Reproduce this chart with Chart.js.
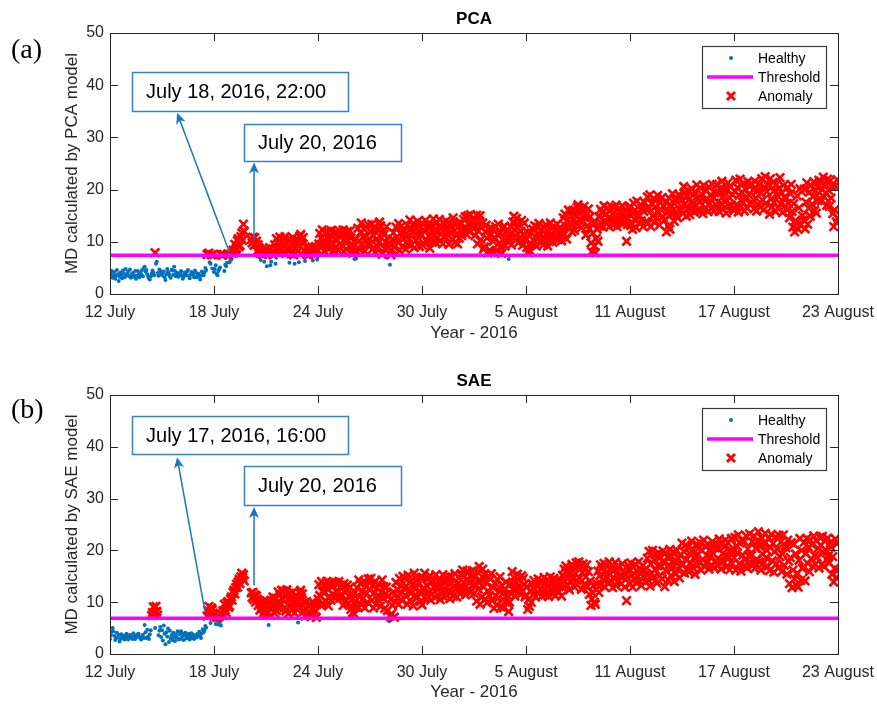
<!DOCTYPE html>
<html>
<head>
<meta charset="utf-8">
<script src="https://cdn.jsdelivr.net/npm/chart.js@4.4.0/dist/chart.umd.min.js"></script>
<style>
  body { margin: 0; background: #fff; }
  #wrap { position: relative; width: 877px; height: 704px; }
  canvas { position: absolute; left: 0; }
</style>
</head>
<body>
<div id="wrap">
  <canvas id="pca" width="877" height="352" style="top:0px"></canvas>
  <canvas id="sae" width="877" height="352" style="top:352px"></canvas>
</div>
<script>
// x axis: days since 12 July 2016, one sample every 0.05 day
const dateLabels = ["12 July", "18 July", "24 July", "30 July", "5 August", "11 August", "17 August", "23 August"];
const sampleDays = 0.05;
const pcaThreshold = 7.4;
const saeThreshold = 6.9;

// MD values, 20 samples per day (one row = one day, null = no data)
const pcaMD = [
  3.4, 3.9, 4.4, 3.1, 3.6, 4.2, 2.9, 3.5, 4.6, 3.8, 2.5, 3.3, 4.1, 3.7, 3.0, 4.5, 3.9, 3.2, 4.8, 3.6,
  3.9, 4.3, 3.4, 4.7, 3.1, 3.8, 4.0, 3.3, 3.6, 4.4, 2.9, 3.5, 4.4, 3.7, 3.2, 4.1, 3.8, 4.6, 3.4, 5.0,
  5.2, 4.3, 4.6, 3.8, 3.3, 2.9, 2.8, 3.4, 3.9, 4.5, 4.1, 3.6, 7.9, 5.8, 6.2, 4.0, 3.5, 4.7, 4.4, 3.9,
  3.6, 4.1, 4.3, 3.2, 2.7, 3.8, 4.8, 4.2, 3.9, 3.4, 3.1, 4.6, 4.5, 3.7, 5.2, 4.4, 3.4, 3.9, 4.0, 3.3,
  3.5, 4.0, 4.4, 3.6, 2.9, 3.3, 4.1, 3.8, 3.6, 4.3, 4.6, 3.5, 3.0, 3.7, 4.2, 3.9, 3.8, 3.2, 4.5, 4.1,
  3.2, 3.7, 3.9, 3.4, 2.8, 3.5, 4.3, 3.9, 3.6, 4.1, 5.0, 4.6, 7.6, 7.7, 7.8, 6.1, 5.8, 7.5, 4.9, 7.6,
  4.2, 4.8, 5.5, 3.9, 3.6, 4.4, 4.8, 5.1, 7.6, 7.5, 7.5, 7.6, 4.4, 5.6, 5.3, 6.0, 7.7, 7.5, 6.1, 6.6,
  6.6, 7.8, 8.4, 7.9, 9.5, 8.5, 8.8, 10.2, 10.6, 9.1, 9.3, 11.0, 11.7, 10.3, 13.4, 12.0, null, null, null, null,
  null, null, null, 10.4, 9.8, 10.9, 9.3, 10.8, 9.6, 10.1, 8.2, 9.4, 8.9, 7.8, 6.5, 8.3, 7.6, 8.8, 6.2, 7.9,
  8.6, 5.3, 7.7, 7.8, 8.9, 5.5, 6.2, 8.0, 7.5, 8.3, 9.4, 5.8, 10.6, 8.5, 9.7, 7.9, 10.9, 8.8, 9.9, 8.1,
  9.2, 10.4, 11.0, 7.8, 8.5, 10.3, 9.1, 6.0, 8.7, 7.7, 9.9, 10.8, 7.5, 5.8, 8.9, 9.6, 10.5, 8.2, 6.1, 11.1,
  11.4, 10.5, 9.6, 10.8, 8.4, 6.3, 8.1, 7.6, 8.8, 7.5, 8.9, 8.1, 7.8, 9.0, 6.4, 8.4, 7.7, 9.1, 8.6, 6.6,
  8.3, 9.6, 11.6, 9.4, 10.7, 12.3, 10.1, 8.2, 11.8, 9.2, 9.7, 12.0, 10.5, 8.6, 11.3, 12.2, 9.9, 10.9, 8.4, 11.5,
  9.0, 11.9, 10.3, 8.4, 12.2, 9.6, 10.8, 11.4, 9.3, 12.3, 8.1, 11.5, 10.0, 8.6, 12.0, 10.2, 9.1, 12.1, 10.7, 8.8,
  7.8, 9.2, 6.7, 10.4, 6.8, 8.1, 12.6, 10.1, 8.5, 11.8, 13.6, 9.7, 10.9, 12.4, 8.2, 11.1, 12.8, 9.4, 13.3, 10.6,
  9.6, 11.9, 13.4, 8.6, 11.2, 12.7, 8.0, 10.4, 12.5, 9.1, 9.8, 13.8, 13.1, 10.8, 7.6, 12.0, 11.4, 8.7, 10.0, 12.9,
  7.2, 8.8, 9.8, 5.6, 7.5, 8.4, 10.5, 11.7, 9.0, 9.3, 12.8, 10.9, 10.2, 13.5, 8.3, 11.6, 13.0, 9.1, 12.2, 10.6,
  12.0, 8.6, 10.9, 13.2, 9.6, 10.5, 14.2, 12.4, 9.4, 11.8, 13.5, 8.9, 12.9, 10.3, 11.4, 13.9, 10.7, 9.1, 12.6, 11.2,
  13.6, 9.3, 12.3, 11.9, 14.1, 10.4, 10.0, 13.0, 12.6, 8.8, 11.5, 13.3, 9.9, 14.4, 11.2, 12.1, 9.8, 13.7, 10.8, 12.8,
  14.3, 10.2, 11.5, 12.8, 9.6, 13.7, 11.1, 10.9, 14.0, 12.5, 12.2, 9.5, 13.4, 11.8, 13.0, 10.4, 14.6, 12.0, 9.9, 13.2,
  11.6, 9.6, 12.9, 10.7, 13.8, 13.4, 11.2, 11.8, 14.3, 12.4, 14.8, 11.5, 12.4, 15.0, 13.6, 11.9, 15.2, 13.1, 12.7, 14.4,
  14.3, 11.2, 13.0, 15.1, 9.6, 12.1, 14.0, 15.0, 10.4, 12.7, 13.6, 8.6, 9.0, 11.9, 13.2, 10.7, 7.9, 12.4, 8.4, 11.3,
  8.0, 12.5, 10.1, 7.9, 10.8, 12.9, 8.3, 11.4, 13.4, 9.7, 11.6, 8.9, 7.8, 12.7, 10.3, 13.0, 9.2, 11.8, 12.2, 10.6,
  6.7, 10.5, 12.9, 9.4, 11.7, 13.8, 14.9, 12.3, 11.0, 14.5, 12.6, 9.8, 13.2, 10.9, 12.0, 14.1, 9.3, 11.5, 13.6, 10.2,
  10.6, 8.9, 11.8, 7.9, 8.4, 9.6, 11.7, 9.5, 12.4, 10.3, 13.1, 11.0, 9.2, 12.8, 10.7, 13.5, 11.4, 9.8, 12.2, 10.5,
  9.4, 12.8, 10.7, 13.3, 11.5, 9.2, 12.0, 10.1, 13.6, 11.3, 12.6, 9.9, 13.0, 10.8, 12.3, 11.1, 13.4, 10.4, 11.9, 12.7,
  12.5, 10.2, 11.8, 14.6, 11.4, 15.3, 13.0, 10.5, 14.1, 16.1, 12.8, 15.7, 13.6, 11.9, 16.0, 14.4, 12.2, 15.1, 13.3, 16.6,
  17.1, 14.2, 16.5, 15.4, 12.7, 15.8, 13.9, 16.8, 14.6, 11.3, 15.2, 13.1, 16.3, 12.5, 14.8, 9.8, 8.1, 11.7, 13.6, 9.2,
  7.9, 10.6, 12.4, 10.1, 14.8, 13.0, 16.2, 13.5, 15.7, 12.8, 16.9, 14.1, 15.3, 13.7, 16.5, 14.6, 12.9, 15.9, 14.3, 16.7,
  15.4, 13.2, 16.6, 14.0, 17.0, 12.9, 15.1, 16.3, 13.8, 15.8, 14.4, 16.9, 13.5, 15.6, 14.7, 16.1, 10.1, 13.3, 14.5, 16.4,
  16.8, 13.1, 15.5, 12.4, 17.4, 14.3, 16.0, 12.7, 17.8, 14.9, 15.2, 13.6, 17.1, 14.0, 16.5, 12.9, 15.8, 17.5, 13.8, 16.2,
  18.6, 13.6, 16.4, 19.0, 12.9, 17.3, 15.0, 18.3, 13.8, 16.7, 17.9, 14.5, 18.9, 15.6, 13.2, 17.6, 16.1, 18.5, 14.8, 16.9,
  14.2, 17.5, 11.9, 15.6, 13.0, 18.4, 12.4, 17.0, 15.3, 19.2, 16.1, 13.9, 18.1, 15.0, 17.7, 14.6, 19.0, 16.4, 18.8, 15.9,
  18.0, 15.4, 20.6, 17.2, 19.4, 14.9, 18.7, 16.3, 19.8, 15.2, 17.5, 20.2, 16.6, 18.9, 15.7, 19.6, 17.0, 20.9, 16.0, 18.3,
  17.6, 20.3, 16.0, 19.1, 15.4, 20.8, 17.9, 16.6, 19.7, 18.2, 15.8, 20.5, 17.3, 19.0, 16.3, 21.0, 18.5, 15.9, 19.4, 17.1,
  21.0, 16.5, 19.3, 15.8, 20.2, 17.4, 21.6, 16.2, 18.8, 20.0, 17.7, 15.5, 19.9, 21.3, 16.9, 18.4, 20.6, 17.0, 19.1, 16.4,
  16.0, 19.6, 21.8, 17.1, 20.4, 15.7, 18.9, 22.0, 16.8, 19.5, 17.6, 21.2, 15.9, 20.1, 18.3, 16.5, 21.5, 19.0, 17.3, 20.7,
  21.2, 17.5, 20.0, 16.3, 21.6, 18.4, 15.9, 19.8, 17.1, 20.9, 16.7, 19.3, 22.1, 18.0, 16.1, 20.5, 22.5, 17.4, 19.6, 21.0,
  20.6, 15.3, 22.1, 18.2, 16.7, 21.4, 17.6, 19.9, 15.8, 21.0, 18.9, 16.4, 20.3, 22.3, 17.2, 19.4, 15.6, 20.8, 18.5, 16.9,
  18.5, 16.1, 20.4, 17.3, 14.6, 19.2, 21.0, 15.8, 12.8, 17.3, 11.9, 14.1, 13.6, 18.8, 12.4, 16.5, 20.2, 13.2, 19.6, 15.0,
  14.2, 20.1, 12.5, 17.6, 21.3, 13.4, 16.4, 19.5, 14.9, 20.8, 17.2, 18.6, 21.5, 16.0, 19.8, 15.5, 20.4, 17.9, 21.8, 18.3,
  21.5, 17.8, 20.0, 22.4, 18.6, 21.1, 19.3, 17.0, 22.0, 19.9, 16.8, 21.7, 18.4, 20.6, 15.4, 12.9, 16.1, 20.7, 13.8, 21.9,
  14.6
];

const saeMD = [
  2.9, 3.6, 4.3, 5.0, 4.4, 3.5, 2.7, 3.1, 4.1, 3.2, 3.7, 2.4, 2.9, 3.8, 3.3, 3.0, 3.5, 2.8, 3.4, 3.9,
  3.3, 2.8, 3.1, 3.7, 3.4, 3.1, 2.9, 4.0, 3.6, 2.9, 3.2, 3.5, 3.8, 3.9, 3.3, 3.0, 2.8, 3.4, 3.7, 3.1,
  5.6, 4.2, 3.1, 4.7, 3.4, 2.9, 3.8, 4.6, 7.4, 8.0, 9.1, 7.6, 5.0, 9.2, 8.2, 7.5, 3.6, 4.5, 5.2, 3.3,
  4.6, 2.6, 5.5, 3.9, 1.9, 4.2, 3.4, 4.9, 2.3, 4.5, 3.0, 3.6, 2.7, 4.1, 3.3, 2.5, 3.8, 3.2, 4.4, 2.8,
  3.8, 2.9, 4.4, 3.3, 3.9, 2.7, 3.6, 4.1, 3.0, 3.5, 3.2, 3.9, 2.8, 3.4, 4.0, 3.1, 3.7, 2.9, 3.3, 3.6,
  3.2, 3.9, 3.5, 4.3, 3.6, 3.1, 4.0, 4.8, 4.2, 4.6, 5.4, 5.1, 7.3, 8.4, 9.2, 7.6, 6.0, 8.9, 8.6, 7.9,
  7.5, 6.6, 5.8, 7.1, 6.4, 5.7, 7.2, 6.2, 5.5, 7.7, 8.3, 7.4, 9.6, 8.5, 8.0, 9.9, 10.1, 9.0, 9.3, 10.6,
  11.0, 10.4, 11.9, 12.3, 11.6, 12.8, 13.5, 12.9, 13.9, 14.4, 13.6, 14.9, 15.6, 14.7, 15.3, 14.1, null, null, null, null,
  null, null, null, 11.8, 10.9, 11.9, 10.5, 11.4, 10.0, 11.2, 10.6, 9.4, 10.3, 8.5, 9.8, 9.1, 7.6, 10.2, 8.1, 9.0,
  7.6, 10.2, 8.1, 5.6, 9.3, 7.4, 10.4, 8.7, 11.0, 9.5, 7.9, 10.8, 8.4, 9.9, 12.0, 8.9, 11.4, 9.7, 12.3, 10.6,
  12.2, 9.0, 11.5, 8.3, 12.4, 10.6, 7.8, 11.7, 9.4, 10.9, 8.6, 12.0, 9.9, 7.9, 11.1, 8.8, 10.3, 6.1, 9.5, 11.8,
  12.3, 10.8, 11.6, 8.2, 9.9, 7.3, 8.8, 10.1, 7.6, 9.2, 8.0, 9.6, 7.2, 8.5, 10.0, 7.8, 9.4, 8.3, 7.1, 9.7,
  10.6, 13.4, 11.3, 9.5, 14.0, 12.1, 9.6, 13.1, 11.8, 10.2, 14.0, 12.6, 9.3, 11.1, 13.7, 10.4, 12.9, 11.6, 13.9, 10.9,
  13.8, 11.0, 13.4, 12.2, 14.0, 10.8, 13.0, 11.5, 12.7, 9.4, 13.6, 11.9, 10.1, 12.4, 13.3, 9.7, 11.2, 12.9, 8.6, 10.5,
  8.0, 11.5, 7.7, 10.2, 9.0, 12.8, 9.1, 14.3, 11.0, 13.6, 9.5, 12.2, 10.7, 14.0, 8.9, 11.9, 13.1, 10.0, 14.5, 12.5,
  12.4, 14.6, 10.3, 13.2, 8.9, 11.8, 14.0, 9.6, 12.7, 10.5, 13.5, 11.1, 9.2, 12.0, 14.3, 10.8, 13.0, 8.8, 11.6, 12.9,
  8.4, 11.2, 6.3, 7.3, 10.6, 7.8, 9.4, 12.0, 7.1, 10.1, 13.8, 10.8, 12.4, 9.6, 14.6, 11.5, 13.2, 10.3, 15.0, 12.7,
  14.6, 11.3, 13.0, 9.6, 15.2, 12.1, 10.4, 14.0, 11.8, 13.4, 9.3, 15.6, 12.6, 10.9, 14.4, 11.0, 13.8, 12.2, 10.1, 14.8,
  9.5, 14.8, 12.4, 15.6, 10.7, 13.3, 11.1, 14.5, 12.0, 15.1, 10.4, 13.9, 11.6, 14.2, 12.8, 10.9, 15.3, 13.0, 11.4, 14.0,
  13.0, 10.5, 14.2, 11.8, 15.3, 12.6, 10.9, 13.8, 11.4, 14.6, 12.2, 15.0, 10.7, 13.5, 12.0, 14.9, 11.2, 13.2, 15.5, 12.5,
  11.0, 13.5, 12.2, 14.7, 11.6, 15.4, 13.1, 16.2, 12.8, 15.0, 11.4, 14.3, 16.0, 12.5, 15.8, 13.7, 11.9, 14.9, 16.1, 13.3,
  11.7, 14.9, 13.4, 10.2, 15.8, 12.5, 16.9, 9.6, 14.1, 11.0, 16.4, 12.9, 15.3, 10.6, 13.8, 9.9, 12.2, 15.0, 11.3, 14.5,
  15.5, 10.3, 12.8, 8.8, 13.7, 11.2, 9.5, 14.4, 10.8, 12.1, 14.9, 9.1, 13.2, 11.6, 8.9, 12.5, 10.1, 13.9, 11.4, 9.8,
  8.2, 10.0, 13.5, 11.6, 15.9, 12.4, 14.8, 11.2, 13.9, 12.7, 15.4, 11.9, 14.2, 13.0, 11.5, 15.1, 12.2, 14.6, 13.4, 11.0,
  11.3, 13.0, 8.6, 10.5, 9.2, 12.1, 10.0, 13.6, 11.5, 14.2, 12.4, 11.0, 13.3, 12.0, 14.5, 11.7, 13.8, 12.6, 11.2, 14.0,
  12.3, 14.8, 11.4, 13.7, 12.0, 14.3, 11.1, 13.2, 14.9, 12.5, 13.9, 11.6, 14.6, 12.8, 11.3, 13.5, 14.1, 12.2, 13.0, 14.4,
  13.6, 11.2, 15.2, 12.8, 16.4, 14.0, 17.0, 13.3, 16.1, 14.7, 12.4, 15.8, 13.9, 17.3, 14.5, 16.7, 12.9, 15.5, 17.6, 14.2,
  16.8, 17.8, 14.6, 16.9, 12.5, 15.7, 17.4, 13.4, 16.2, 14.9, 17.2, 13.0, 15.9, 11.5, 14.1, 9.4, 10.6, 11.8, 13.2, 10.0,
  9.6, 12.4, 13.5, 16.0, 11.9, 15.1, 17.2, 13.4, 16.6, 14.3, 17.5, 12.9, 15.7, 14.8, 16.9, 13.8, 17.8, 15.3, 14.0, 16.3,
  12.8, 16.3, 14.5, 17.7, 13.2, 15.6, 17.0, 14.1, 16.8, 15.0, 13.6, 17.4, 14.9, 16.1, 12.9, 15.4, 10.3, 14.7, 17.1, 16.4,
  13.5, 17.6, 15.2, 12.9, 16.8, 14.4, 17.3, 13.8, 16.0, 15.0, 17.8, 14.1, 16.5, 13.2, 15.7, 17.1, 14.8, 16.2, 13.9, 15.5,
  18.5, 14.2, 19.8, 13.1, 17.4, 15.6, 20.0, 14.8, 18.1, 16.3, 19.2, 13.7, 17.0, 19.5, 15.1, 18.7, 16.9, 14.5, 19.9, 17.6,
  13.0, 19.5, 16.0, 18.7, 14.3, 17.2, 20.2, 15.1, 18.9, 16.6, 19.7, 14.0, 17.8, 15.5, 20.0, 16.3, 18.4, 14.7, 19.1, 17.3,
  21.4, 17.3, 19.8, 15.6, 21.0, 18.2, 16.4, 20.6, 15.8, 19.4, 17.6, 21.8, 16.8, 20.1, 18.5, 15.4, 19.0, 21.2, 17.1, 20.4,
  17.7, 21.5, 16.2, 19.9, 18.3, 22.0, 16.9, 20.8, 17.5, 19.0, 21.2, 16.4, 18.8, 20.3, 17.1, 21.7, 19.4, 16.7, 20.5, 18.0,
  21.2, 17.0, 20.3, 22.2, 18.1, 16.4, 21.6, 19.4, 17.8, 20.7, 22.0, 16.8, 19.0, 21.4, 18.5, 16.3, 20.1, 22.3, 17.5, 19.7,
  18.6, 22.5, 16.2, 20.9, 19.5, 23.0, 17.4, 21.4, 16.0, 22.0, 19.1, 17.0, 21.7, 18.2, 22.8, 16.6, 20.3, 18.9, 23.2, 17.7,
  19.0, 21.7, 17.2, 22.8, 16.5, 20.4, 18.3, 21.9, 23.6, 17.8, 20.8, 16.2, 22.4, 19.3, 17.5, 21.2, 23.3, 18.6, 20.0, 16.9,
  22.4, 16.1, 20.6, 23.1, 18.0, 21.3, 15.8, 19.7, 22.6, 17.4, 20.2, 16.6, 22.9, 18.8, 21.6, 15.9, 19.3, 23.0, 17.1, 20.9,
  20.5, 15.4, 22.0, 17.9, 13.6, 18.6, 21.5, 12.8, 16.2, 21.2, 14.5, 19.3, 13.3, 15.6, 12.9, 18.1, 22.3, 14.2, 20.0, 16.5,
  16.8, 21.6, 14.1, 19.4, 22.3, 17.5, 20.6, 15.9, 22.0, 18.4, 21.1, 16.9, 22.8, 19.0, 17.3, 21.9, 18.7, 20.4, 16.6, 22.5,
  21.0, 17.3, 22.7, 19.6, 16.9, 21.8, 20.1, 18.2, 22.4, 19.0, 17.6, 21.5, 20.6, 15.4, 18.8, 13.9, 16.5, 22.2, 14.8, 21.3,
  16.2
];

const sans = '"Liberation Sans", Arial, sans-serif';
const axisColor = '#262626';
const healthyColor = '#0072BD';
const anomalyColor = '#ff0000';
const thresholdColor = '#ff00ff';

const panels = [
  {
    id: 'pca', md: pcaMD, thr: pcaThreshold, title: 'PCA', letter: '(a)',
    yTitle: 'MD calculated by PCA model',
    padTop: 33, xHeight: 58, xTitlePad: 8, titleY: 19, letterY: 51,
    notes: [
      {text: 'July 18, 2016, 22:00', box: [1.27, 35.1, 13.73, 42.6], tail: [6.87, 8.2], head: [3.87, 34.7]},
      {text: 'July 20, 2016', box: [7.73, 25.5, 16.79, 32.6], tail: [8.31, 10.4], head: [8.31, 25.2]}
    ]
  },
  {
    id: 'sae', md: saeMD, thr: saeThreshold, title: 'SAE', letter: '(b)',
    yTitle: 'MD calculated by SAE model',
    padTop: 43, xHeight: 50, xTitlePad: 1, titleY: 29, letterY: 59,
    notes: [
      {text: 'July 17, 2016, 16:00', box: [1.27, 38.6, 13.73, 45.9], tail: [5.48, 8.2], head: [3.87, 38.0]},
      {text: 'July 20, 2016', box: [7.73, 28.8, 16.79, 36.3], tail: [8.31, 13.2], head: [8.31, 28.4]}
    ]
  }
];

function arrow(ctx, x0, y0, x1, y1) {
  const ang = Math.atan2(y1 - y0, x1 - x0);
  const len = 11, half = 5;
  ctx.beginPath();
  ctx.moveTo(x0, y0);
  ctx.lineTo(x1 - Math.cos(ang) * 6, y1 - Math.sin(ang) * 6);
  ctx.stroke();
  ctx.save();
  ctx.translate(x1, y1);
  ctx.rotate(ang);
  ctx.beginPath();
  ctx.moveTo(0, 0);
  ctx.lineTo(-len, -half);
  ctx.lineTo(-len + 3, 0);
  ctx.lineTo(-len, half);
  ctx.closePath();
  ctx.fill();
  ctx.restore();
}

const decor = {
  id: 'decor',
  afterDraw(chart, args, o) {
    const {ctx, chartArea: a} = chart;
    const xs = chart.scales.x, ys = chart.scales.y;
    ctx.save();

    // box and inward ticks
    ctx.strokeStyle = axisColor;
    ctx.lineWidth = 1;
    ctx.strokeRect(a.left + 0.5, a.top + 0.5, a.right - a.left, a.bottom - a.top);
    ctx.beginPath();
    xs.ticks.forEach(t => {
      const px = Math.round(xs.getPixelForValue(t.value)) + 0.5;
      ctx.moveTo(px, a.bottom); ctx.lineTo(px, a.bottom - 8);
      ctx.moveTo(px, a.top); ctx.lineTo(px, a.top + 8);
    });
    ys.ticks.forEach(t => {
      const py = Math.round(ys.getPixelForValue(t.value)) + 0.5;
      ctx.moveTo(a.left, py); ctx.lineTo(a.left + 8, py);
      ctx.moveTo(a.right, py); ctx.lineTo(a.right - 8, py);
    });
    ctx.stroke();

    // title and panel letter
    ctx.fillStyle = '#000';
    ctx.textBaseline = 'middle';
    ctx.textAlign = 'center';
    ctx.font = 'bold 17px ' + sans;
    ctx.fillText(o.title, (a.left + a.right) / 2, o.titleY);
    ctx.textAlign = 'left';
    ctx.font = '28px "Liberation Serif", serif';
    ctx.fillText(o.letter, 11, o.letterY);

    // legend
    const lx = a.right - 136, ly = a.top + 13, lw = 124, lh = 62;
    ctx.fillStyle = '#fff';
    ctx.fillRect(lx, ly, lw, lh);
    ctx.strokeStyle = '#3a3a3a';
    ctx.lineWidth = 1.2;
    ctx.strokeRect(lx + 0.5, ly + 0.5, lw, lh);
    ctx.font = '14px ' + sans;
    ctx.fillStyle = healthyColor;
    ctx.beginPath(); ctx.arc(lx + 29, ly + 12, 2, 0, Math.PI * 2); ctx.fill();
    ctx.strokeStyle = thresholdColor; ctx.lineWidth = 3.5;
    ctx.beginPath(); ctx.moveTo(lx + 5, ly + 31); ctx.lineTo(lx + 51, ly + 31); ctx.stroke();
    ctx.strokeStyle = anomalyColor; ctx.lineWidth = 3;
    ctx.beginPath();
    ctx.moveTo(lx + 25, ly + 46); ctx.lineTo(lx + 33, ly + 54);
    ctx.moveTo(lx + 33, ly + 46); ctx.lineTo(lx + 25, ly + 54);
    ctx.stroke();
    ctx.fillStyle = '#000';
    ctx.fillText('Healthy', lx + 56, ly + 13);
    ctx.fillText('Threshold', lx + 56, ly + 32);
    ctx.fillText('Anomaly', lx + 56, ly + 51);

    // text boxes with arrows
    o.notes.forEach(n => {
      const bx0 = xs.getPixelForValue(n.box[0]), bx1 = xs.getPixelForValue(n.box[2]);
      const by0 = ys.getPixelForValue(n.box[3]), by1 = ys.getPixelForValue(n.box[1]);
      ctx.fillStyle = '#fff';
      ctx.fillRect(bx0, by0, bx1 - bx0, by1 - by0);
      ctx.strokeStyle = '#3682cc';
      ctx.lineWidth = 1.5;
      ctx.strokeRect(Math.round(bx0) + 0.5, Math.round(by0) + 0.5, Math.round(bx1 - bx0), Math.round(by1 - by0));
      ctx.fillStyle = '#000';
      ctx.font = '20px ' + sans;
      ctx.textAlign = 'left';
      ctx.fillText(n.text, bx0 + 14, (by0 + by1) / 2 + 1);
      ctx.strokeStyle = '#1c74c6';
      ctx.fillStyle = '#1c74c6';
      ctx.lineWidth = 1.5;
      arrow(ctx,
        xs.getPixelForValue(n.tail[0]), ys.getPixelForValue(n.tail[1]),
        xs.getPixelForValue(n.head[0]), ys.getPixelForValue(n.head[1]));
    });
    ctx.restore();
  }
};

panels.forEach(p => {
  const healthy = [], anomaly = [];
  p.md.forEach((v, i) => {
    if (v === null) return;
    const pt = {x: i * sampleDays, y: v};
    (v > p.thr ? anomaly : healthy).push(pt);
  });
  const lastDay = 42;

  new Chart(document.getElementById(p.id), {
    type: 'scatter',
    data: {
      datasets: [
        {
          label: 'Threshold', showLine: true, data: [{x: 0, y: p.thr}, {x: lastDay, y: p.thr}],
          borderColor: thresholdColor, borderWidth: 3.5, pointRadius: 0
        },
        {
          label: 'Anomaly', data: anomaly, pointStyle: 'crossRot', pointRadius: 6,
          borderColor: anomalyColor, backgroundColor: anomalyColor, pointBorderWidth: 2.6
        },
        {
          label: 'Healthy', data: healthy, pointRadius: 2, pointBorderWidth: 0,
          backgroundColor: healthyColor, borderColor: healthyColor
        }
      ]
    },
    options: {
      responsive: false,
      animation: false,
      events: [],
      layout: {padding: {top: p.padTop, right: 39, left: 0, bottom: 0}},
      plugins: {
        legend: {display: false},
        tooltip: {enabled: false},
        decor: {title: p.title, letter: p.letter, titleY: p.titleY, letterY: p.letterY, notes: p.notes}
      },
      scales: {
        x: {
          type: 'linear', min: 0, max: lastDay,
          grid: {display: false, drawTicks: false},
          border: {display: false},
          ticks: {
            stepSize: 6, autoSkip: false, maxRotation: 0, padding: 9,
            color: axisColor, font: {family: sans, size: 16},
            callback: v => dateLabels[Math.round(v / 6)]
          },
          title: {
            display: true, text: 'Year - 2016', color: axisColor,
            font: {family: sans, size: 17}, padding: {top: 0, bottom: p.xTitlePad}
          },
          afterFit: s => { s.height = p.xHeight; s.paddingLeft = 0; s.paddingRight = 0; }
        },
        y: {
          min: 0, max: 50,
          grid: {display: false, drawTicks: false},
          border: {display: false},
          ticks: {stepSize: 10, padding: 6, color: axisColor, font: {family: sans, size: 16}},
          title: {
            display: true, text: p.yTitle, color: axisColor,
            font: {family: sans, size: 17}, padding: {top: 62, bottom: 0}
          },
          afterFit: s => { s.width = 110; }
        }
      }
    },
    plugins: [decor]
  });
});
</script>
</body>
</html>
